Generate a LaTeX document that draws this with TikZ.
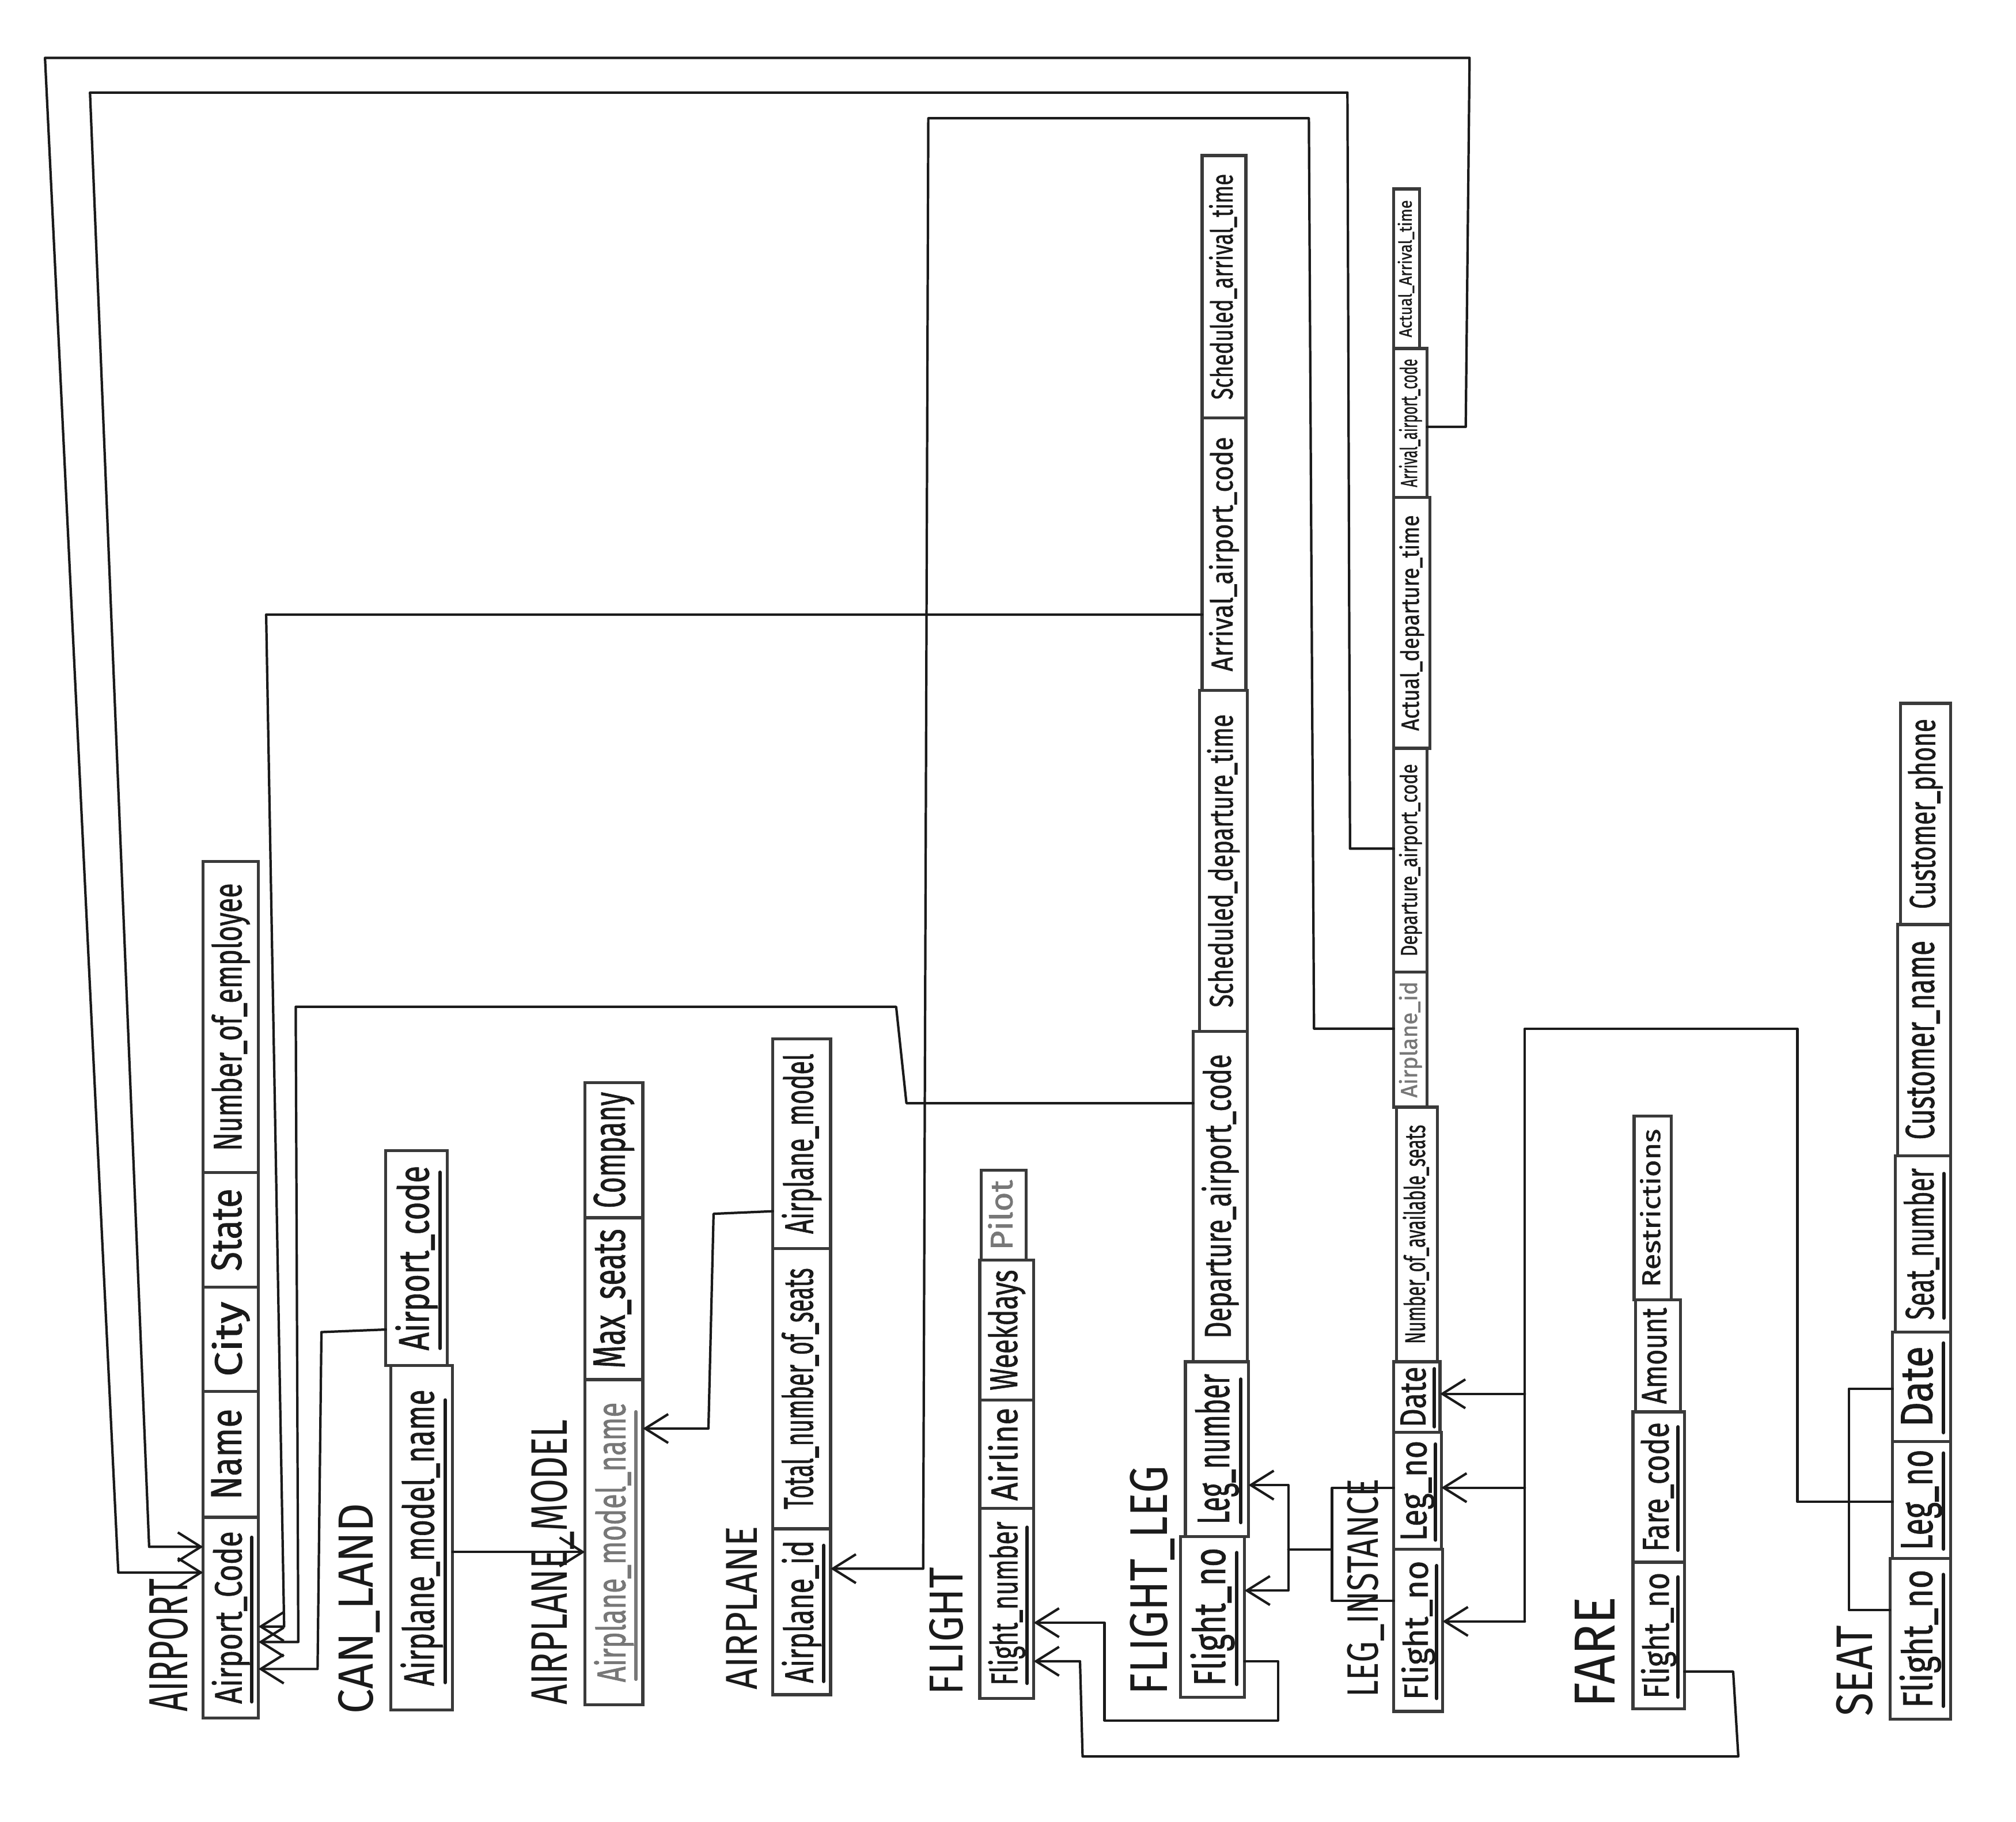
\documentclass[tikz,border=0pt]{standalone}
\usepackage{fontspec}
\setmainfont{Fira Sans}
\newfontfamily\handfont{Fira Sans}[FakeBold=1.2]
\usepackage{graphicx}
\usetikzlibrary{arrows.meta}
\definecolor{ink}{HTML}{1A1A1A}
\definecolor{boxc}{HTML}{3A3A3A}
\definecolor{pale}{HTML}{777777}
\tikzset{
  conn/.style={draw=ink, line width=1.2pt, line join=round, line cap=round},
  arr/.style={conn, -{Straight Barb[length=4mm,width=5mm]}},
  cellbox/.style={draw=boxc, line width=1.5pt, inner sep=0pt, outer sep=0pt, rectangle},
  celltext/.style={inner sep=0pt, text=ink, font=\handfont\fontsize{20pt}{20pt}\selectfont},
  titletext/.style={inner sep=0pt, text=ink, font=\fontsize{20pt}{20pt}\selectfont},
  uline/.style={draw=ink, line width=1.7pt, line cap=round},
}
\newcommand\ucm{0.0223214}
\def\Tfill{0.86}
% [text opts]{name}{x1}{x2}{y1}{y2}{text}
\newcommand\mkcell[7][]{%
  \pgfmathsetmacro\Tcx{(#3+#4)/2}%
  \pgfmathsetmacro\Tcy{(#5+#6)/2}%
  \pgfmathsetmacro\Tcw{(#4-#3)*\ucm}%
  \pgfmathsetmacro\Tch{(#6-#5)*\ucm}%
  \pgfmathsetmacro\Ttl{\Tch*\Tfill}%
  \pgfmathsetmacro\Tth{\Tcw*0.54}%
  \node[cellbox, minimum width=\Tcw cm, minimum height=\Tch cm] (#2) at (\Tcx,\Tcy) {};%
  \node[celltext, rotate=90, #1] (#2-t) at (#2.center) {\resizebox{\Ttl cm}{\Tth cm}{\vphantom{Ay}#7}};%
}
\newcommand\mkpk[7][]{%
  \mkcell[#1]{#2}{#3}{#4}{#5}{#6}{#7}%
  \pgfmathsetmacro\Tux{#4-(#4-#3)*0.12}%
  \pgfmathsetmacro\Tuya{\Tcy-(#6-#5)*0.40}%
  \pgfmathsetmacro\Tuyb{\Tcy+(#6-#5)*0.42}%
  \draw[uline] (\Tux,\Tuya) -- (\Tux,\Tuyb);%
}
% {name}{x1}{x2}{y1}{y2}{text}
\newcommand\mktitle[6]{%
  \pgfmathsetmacro\Tcx{(#2+#3)/2}%
  \pgfmathsetmacro\Tcy{(#4+#5)/2}%
  \pgfmathsetmacro\Ttl{(#5-#4)*\ucm}%
  \pgfmathsetmacro\Tth{(#3-#2)*\ucm}%
  \node[titletext, rotate=90] (#1) at (\Tcx,\Tcy) {\raisebox{0pt}[\height][0pt]{\resizebox{\Ttl cm}{\Tth cm}{#6}}};%
}
\begin{document}
\begin{tikzpicture}[x=0.0223214cm, y=-0.0223214cm]
\path[use as bounding box, fill=white] (0,0) rectangle (1568,1417);

% ---------- titles ----------
\mktitle{t_airport}{116}{146}{1228}{1331}{AIRPORT}
\mktitle{t_canland}{263}{290}{1169}{1333}{CAN\_LAND}
\mktitle{t_amodel}{413}{441}{1104}{1326}{AIRPLANE\_MODEL}
\mktitle{t_airplane}{565}{589}{1187}{1314}{AIRPLANE}
\mktitle{t_flight}{723}{749}{1219}{1318}{FLIGHT}
\mktitle{t_fleg}{879}{908}{1140}{1318}{FLIGHT\_LEG}
\mktitle{t_linst}{1048}{1072}{1150}{1320}{LEG\_INSTANCE}
\mktitle{t_fare}{1225}{1256}{1242}{1328}{FARE}
\mktitle{t_seat}{1428}{1456}{1264}{1335}{SEAT}

% ---------- AIRPORT ----------
\mkcell{ap_num}{158}{201}{670}{912}{Number\_of\_employee}
\def\Tfill{0.72}
\mkcell{ap_state}{158}{201}{912}{1001}{State}
\mkcell{ap_city}{158}{201}{1001}{1082}{City}
\mkcell{ap_name}{158}{201}{1082}{1180}{Name}
\def\Tfill{0.86}
\mkpk{ap_code}{158}{201}{1180}{1336}{Airport\_Code}

% ---------- CAN_LAND ----------
\mkpk{cl_apc}{300}{348}{895}{1062}{Airport\_code}
\mkpk{cl_amn}{304}{352}{1062}{1330}{Airplane\_model\_name}

% ---------- AIRPLANE_MODEL ----------
\mkcell{am_comp}{455}{500}{842}{947}{Company}
\mkcell{am_max}{455}{500}{947}{1073}{Max\_seats}
\mkcell[text=pale]{am_name}{455}{500}{1073}{1326}{Airplane\_model\_name}
\draw[uline, draw=pale] (494.6,1098) -- (494.6,1306);

% ---------- AIRPLANE ----------
\mkcell{a_model}{601}{646}{808}{971}{Airplane\_model}
\mkcell{a_total}{601}{646}{971}{1189}{Total\_number\_of\_seats}
\mkpk{a_id}{601}{646}{1189}{1318}{Airplane\_id}

% ---------- FLIGHT ----------
\def\Tfill{0.78}
\mkcell[text=pale]{f_pilot}{763}{798}{910}{980}{Pilot}
\def\Tfill{0.86}
\mkcell{f_week}{762}{804}{980}{1089}{Weekdays}
\mkcell{f_airline}{762}{804}{1089}{1173}{Airline}
\mkpk{f_num}{762}{804}{1173}{1321}{Flight\_number}

% ---------- FLIGHT_LEG ----------
\mkcell{fl_sat}{935}{969}{121}{325}{Scheduled\_arrival\_time}
\mkcell{fl_aac}{935}{969}{325}{537}{Arrival\_airport\_code}
\mkcell{fl_sdt}{933}{970}{537}{802}{Scheduled\_departure\_time}
\mkcell{fl_dac}{928}{970}{802}{1059}{Departure\_airport\_code}
\mkpk{fl_leg}{922}{971}{1059}{1195}{Leg\_number}
\mkpk{fl_fno}{918}{968}{1195}{1320}{Flight\_no}

% ---------- LEG_INSTANCE ----------
\mkcell{li_aat}{1084}{1104}{147}{271}{Actual\_Arrival\_time}
\mkcell{li_aac}{1084}{1110}{271}{387}{Arrival\_airport\_code}
\mkcell{li_adt}{1084}{1112}{387}{582}{Actual\_departure\_time}
\mkcell{li_dac}{1084}{1110}{582}{756}{Departure\_airport\_code}
\mkcell[text=pale]{li_aid}{1084}{1110}{756}{861}{Airplane\_id}
\mkcell{li_nas}{1086}{1118}{861}{1059}{Number\_of\_available\_seats}
\mkpk{li_date}{1084}{1120}{1059}{1114}{Date}
\mkpk{li_leg}{1084}{1121}{1114}{1205}{Leg\_no}
\mkpk{li_fno}{1084}{1122}{1205}{1331}{Flight\_no}

% ---------- FARE ----------
\mkcell{fa_res}{1271}{1300}{868}{1011}{Restrictions}
\mkcell{fa_amt}{1272}{1307}{1011}{1098}{Amount}
\mkpk{fa_code}{1270}{1310}{1098}{1215}{Fare\_code}
\mkpk{fa_fno}{1270}{1310}{1215}{1329}{Flight\_no}

% ---------- SEAT ----------
\mkcell{s_phone}{1478}{1517}{547}{719}{Customer\_phone}
\mkcell{s_name}{1476}{1517}{719}{899}{Customer\_name}
\mkpk{s_seat}{1474}{1517}{899}{1036}{Seat\_number}
\def\Tfill{0.74}
\mkpk{s_date}{1472}{1517}{1036}{1121}{Date}
\def\Tfill{0.86}
\mkpk{s_leg}{1472}{1517}{1121}{1212}{Leg\_no}
\mkpk{s_fno}{1470}{1517}{1212}{1337}{Flight\_no}

% ---------- junctions ----------
\coordinate (jli) at (1036,1205);
\coordinate (jfl) at (1002,1205);
\coordinate (jsa) at (1186,800);
\coordinate (jsb) at (1186,1084);
\coordinate (jsc) at (1186,1157);
\coordinate (jsd) at (1186,1261);

% ---------- connectors ----------
% LEG_INSTANCE.Arrival_airport_code -> AIRPORT
\draw[arr] (li_aac.east |- 0,332) -- (1140,332) -- (1143,45) -- (35,45) -- (92,1223) -- (ap_code.west |- 0,1223);
% LEG_INSTANCE.Departure_airport_code -> AIRPORT
\draw[arr] (li_dac.west |- 0,660) -- (1050,660) -- (1048,72) -- (70,72) -- (116,1203) -- (ap_code.west |- 0,1203);
% FLIGHT_LEG.Arrival_airport_code -> AIRPORT
\draw[arr] (fl_aac.west |- 0,478) -- (207,478) -- (221,1265) -- (ap_code.east |- 0,1265);
% FLIGHT_LEG.Departure_airport_code -> AIRPORT
\draw[arr] (fl_dac.west |- 0,858) -- (705,858) -- (697,783) -- (230,783) -- (232,1277) -- (ap_code.east |- 0,1277);
% CAN_LAND.Airport_code -> AIRPORT
\draw[arr] (cl_apc.west |- 0,1034) -- (250,1036) -- (247,1298) -- (ap_code.east |- 0,1298);
% CAN_LAND.Airplane_model_name -> AIRPLANE_MODEL
\draw[arr] (cl_amn.east |- 0,1207) -- (am_name.west |- 0,1207);
% AIRPLANE.Airplane_model -> AIRPLANE_MODEL
\draw[arr] (a_model.west |- 0,942) -- (555,944) -- (551,1111) -- (am_name.east |- 0,1111);
% LEG_INSTANCE.Airplane_id -> AIRPLANE
\draw[arr] (li_aid.west |- 0,800) -- (1022,800) -- (1018,92) -- (722,92) -- (718,1220) -- (a_id.east |- 0,1220);
% LEG_INSTANCE (Flight_no, Leg_no) -> FLIGHT_LEG
\draw[conn] (li_leg.west |- 0,1157) -- (1036,1157) -- (1036,1245) -- (li_fno.west |- 0,1245);
\draw[conn] (jli) -- (jfl);
\draw[arr] (jfl) -- (1002,1155) -- (fl_leg.east |- 0,1155);
\draw[arr] (jfl) -- (1002,1237) -- (fl_fno.east |- 0,1237);
% FLIGHT_LEG.Flight_no -> FLIGHT
\draw[arr] (fl_fno.east |- 0,1292) -- (994,1292) -- (994,1338) -- (859,1338) -- (859,1262) -- (f_num.east |- 0,1262);
% FARE.Flight_no -> FLIGHT
\draw[arr] (fa_fno.east |- 0,1300) -- (1348,1300) -- (1352,1366) -- (842,1366) -- (840,1292) -- (f_num.east |- 0,1292);
% SEAT (Flight_no, Leg_no, Date) -> LEG_INSTANCE
\draw[conn] (s_date.west |- 0,1080) -- (1438,1080) -- (1438,1252) -- (s_fno.west |- 0,1252);
\draw[conn] (s_leg.west |- 0,1168) -- (1398,1168) -- (1398,800) -- (jsa) -- (jsd);
\draw[arr] (jsb) -- (li_date.east |- 0,1084);
\draw[arr] (jsc) -- (li_leg.east |- 0,1157);
\draw[arr] (jsd) -- (li_fno.east |- 0,1261);
\end{tikzpicture}
\end{document}
